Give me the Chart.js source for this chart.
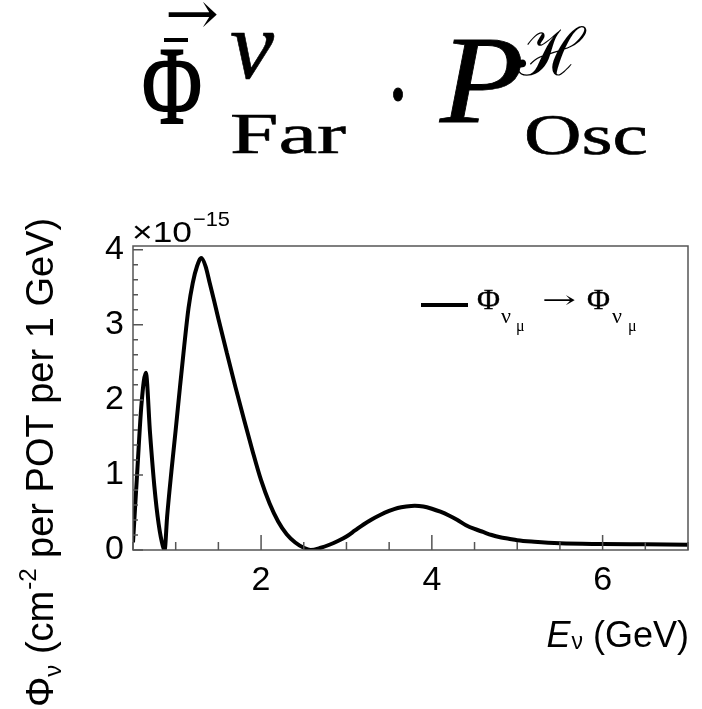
<!DOCTYPE html>
<html>
<head>
<meta charset="utf-8">
<script src="https://cdn.jsdelivr.net/npm/chart.js@4.4.0/dist/chart.umd.min.js"></script>
<style>
  html, body { margin: 0; padding: 0; background: #fff; }
</style>
</head>
<body>
<canvas id="fluxChart" width="702" height="709"></canvas>
<script>
// ===== far detector flux x oscillation probability =====

// neutrino energy (GeV)
var energyGeV = [0.50, 0.55, 0.60, 0.65, 0.70, 0.75, 0.80, 0.85, 0.87, 0.90,
    0.95, 1.00, 1.05, 1.10, 1.15, 1.20, 1.25, 1.30, 1.35, 1.40,
    1.45, 1.50, 1.60, 1.70, 1.80, 1.90, 2.00, 2.10, 2.20, 2.30,
    2.40, 2.50, 2.58, 2.70, 2.80, 2.90, 3.00, 3.10, 3.20, 3.30,
    3.40, 3.50, 3.60, 3.70, 3.80, 3.90, 4.00, 4.10, 4.20, 4.30,
    4.40, 4.50, 4.60, 4.70, 4.80, 4.90, 5.00, 5.20, 5.50, 6.00,
    6.50, 7.00];

// flux in units of 1e-15 cm^-2 per POT per 1 GeV
var fluxE15 = [0.10, 1.05, 1.95, 2.36, 1.55, 0.85, 0.35, 0.05, 0.00, 0.45,
    1.05, 1.60, 2.17, 2.72, 3.22, 3.56, 3.78, 3.89, 3.78, 3.55,
    3.32, 3.08, 2.62, 2.17, 1.74, 1.32, 0.93, 0.62, 0.38, 0.21,
    0.10, 0.03, 0.00, 0.03, 0.07, 0.12, 0.18, 0.26, 0.34, 0.41,
    0.47, 0.52, 0.56, 0.58, 0.59, 0.58, 0.55, 0.51, 0.46, 0.40,
    0.33, 0.28, 0.24, 0.20, 0.17, 0.15, 0.13, 0.11, 0.09, 0.08,
    0.075, 0.07];

var xMajorTicks = [2, 4, 6];
var yMajorTicks = [0, 1, 2, 3, 4];

(function() {
    'use strict';

    var SANS = "'Liberation Sans', Arial, sans-serif";
    var SERIF = "'Liberation Serif', 'Times New Roman', serif";

    function isIn(list, v) {
        for (var i = 0; i < list.length; i++) {
            if (Math.abs(list[i] - v) < 1e-6) return true;
        }
        return false;
    }

    // draw text squeezed / stretched to a given width, optional thickening
    function fitText(ctx, txt, x, y, font, w, bold) {
        ctx.font = font;
        var m = ctx.measureText(txt).width;
        ctx.save();
        ctx.translate(x, y);
        ctx.scale(w / m, 1);
        ctx.fillText(txt, 0, 0);
        if (bold) {
            ctx.lineWidth = bold;
            ctx.strokeStyle = '#000';
            ctx.strokeText(txt, 0, 0);
        }
        ctx.restore();
    }

    // frame + inward ROOT style ticks
    var framePlugin = {
        id: 'frame',
        afterDatasetsDraw: function(chart) {
            var ctx = chart.ctx;
            var a = chart.chartArea;
            var xs = chart.scales.x, ys = chart.scales.y;
            ctx.save();
            ctx.strokeStyle = '#555';
            ctx.lineWidth = 1.5;
            ctx.strokeRect(a.left, a.top, a.right - a.left, a.bottom - a.top);

            ctx.beginPath();
            xs.ticks.forEach(function(t) {
                var v = t.value;
                if (Math.abs(v * 2 - Math.round(v * 2)) > 1e-6) return;
                var px = xs.getPixelForValue(v);
                var len = isIn(xMajorTicks, v) ? 15 : 8;
                ctx.moveTo(px, a.bottom);
                ctx.lineTo(px, a.bottom - len);
            });
            ys.ticks.forEach(function(t) {
                var v = t.value;
                if (Math.abs(v * 5 - Math.round(v * 5)) > 1e-6) return;
                var py = ys.getPixelForValue(v);
                var len = isIn(yMajorTicks, v) ? 10 : 5;
                ctx.moveTo(a.left, py);
                ctx.lineTo(a.left + len, py);
            });
            ctx.stroke();
            ctx.restore();
        },
        afterDraw: function(chart) {
            var ctx = chart.ctx;
            ctx.save();
            ctx.fillStyle = '#000';
            ctx.textAlign = 'left';
            ctx.textBaseline = 'alphabetic';

            // ---- formula title ----
            fitText(ctx, 'Φ', 142, 123, '110px ' + SERIF, 60, 2);
            ctx.strokeStyle = '#000';
            ctx.lineWidth = 4;
            ctx.beginPath();
            ctx.moveTo(164, 40);
            ctx.lineTo(188, 40);
            ctx.stroke();
            fitText(ctx, '→', 165, 34, "60px 'DejaVu Serif', serif", 54);
            fitText(ctx, 'ν', 230, 78, 'italic 98px ' + SERIF, 44, 0.6);
            fitText(ctx, 'Far', 230, 153, '56px ' + SERIF, 116, 0.6);
            fitText(ctx, '·', 385, 131, '110px ' + SERIF, 26, 1);
            fitText(ctx, 'P', 440, 122, 'italic 125px ' + SERIF, 84, 0.8);
            fitText(ctx, 'ℋ', 517, 75, "66px 'DejaVu Serif', serif", 68);
            fitText(ctx, 'Osc', 524, 154, '58px ' + SERIF, 124, 0.6);

            // ---- exponent label ----
            fitText(ctx, '×10', 132, 242, '30px ' + SANS, 60);
            fitText(ctx, '−15', 193, 226, '21px ' + SANS, 37);

            // ---- legend ----
            ctx.strokeStyle = '#000';
            ctx.lineWidth = 4;
            ctx.beginPath();
            ctx.moveTo(421, 305);
            ctx.lineTo(468, 305);
            ctx.stroke();
            fitText(ctx, 'Φ', 477, 309, '30px ' + SERIF, 23, 0.4);
            fitText(ctx, 'Φ', 587, 309, '30px ' + SERIF, 23, 0.4);
            fitText(ctx, '→', 542, 308, "24px 'DejaVu Serif', serif", 34);
            ctx.font = '22px ' + SERIF;
            ctx.fillText('ν', 501, 323);
            ctx.fillText('ν', 612, 323);
            ctx.font = '16px ' + SERIF;
            ctx.fillText('μ', 516, 331);
            ctx.fillText('μ', 628, 331);

            // ---- x axis title ----
            ctx.textAlign = 'right';
            ctx.font = '36px ' + SANS;
            ctx.fillText('(GeV)', 689, 647);
            var wGeV = ctx.measureText(' (GeV)').width;
            ctx.font = '23px ' + SANS;
            ctx.fillText('ν', 689 - wGeV, 649);
            var wNu = ctx.measureText('ν').width;
            ctx.font = 'italic 36px ' + SANS;
            ctx.fillText('E', 689 - wGeV - wNu - 1, 647);

            // ---- y axis title (rotated, reads upward from the bottom) ----
            ctx.textAlign = 'left';
            ctx.translate(53, 707);
            ctx.rotate(-Math.PI / 2);
            var x = 0;
            ctx.font = '38px ' + SANS;
            ctx.fillText('Φ', x, 0);
            x += ctx.measureText('Φ').width;
            ctx.font = '24px ' + SANS;
            ctx.fillText('ν', x, 8);
            x += ctx.measureText('ν').width;
            ctx.font = '38px ' + SANS;
            ctx.fillText(' (cm', x, 0);
            x += ctx.measureText(' (cm').width;
            ctx.font = '24px ' + SANS;
            ctx.fillText('-2', x + 1, -17);
            x += ctx.measureText('-2').width + 1;
            ctx.font = '38px ' + SANS;
            ctx.fillText(' per POT per 1 GeV)', x, 0);

            ctx.restore();
        }
    };

    var points = energyGeV.map(function(e, i) {
        return { x: e, y: fluxE15[i] };
    });

    var ctx = document.getElementById('fluxChart').getContext('2d');
    new Chart(ctx, {
        type: 'line',
        data: {
            datasets: [{
                label: 'numu -> numu',
                data: points,
                borderColor: '#000',
                borderWidth: 4,
                pointRadius: 0,
                fill: false,
                cubicInterpolationMode: 'monotone'
            }]
        },
        options: {
            responsive: false,
            devicePixelRatio: 1,
            animation: false,
            layout: { padding: { left: 0, right: 14, top: 246, bottom: 109 } },
            plugins: {
                legend: { display: false },
                tooltip: { enabled: false }
            },
            scales: {
                x: {
                    type: 'linear',
                    min: 0.5,
                    max: 7,
                    afterFit: function(s) { s.height = 50; },
                    grid: { display: false, drawTicks: false },
                    border: { display: false },
                    ticks: {
                        stepSize: 0.5,
                        autoSkip: false,
                        includeBounds: false,
                        maxRotation: 0,
                        padding: 10,
                        color: '#000',
                        font: { size: 34, family: SANS },
                        callback: function(v) { return isIn(xMajorTicks, v) ? String(Math.round(v)) : ''; }
                    }
                },
                y: {
                    min: 0,
                    max: 4.05,
                    afterFit: function(s) { s.width = 133; },
                    grid: { display: false, drawTicks: false },
                    border: { display: false },
                    ticks: {
                        stepSize: 0.2,
                        autoSkip: false,
                        includeBounds: false,
                        padding: 9,
                        color: '#000',
                        font: { size: 34, family: SANS },
                        callback: function(v) { return isIn(yMajorTicks, v) ? String(Math.round(v)) : ''; }
                    }
                }
            }
        },
        plugins: [framePlugin]
    });
})();
</script>
</body>
</html>
